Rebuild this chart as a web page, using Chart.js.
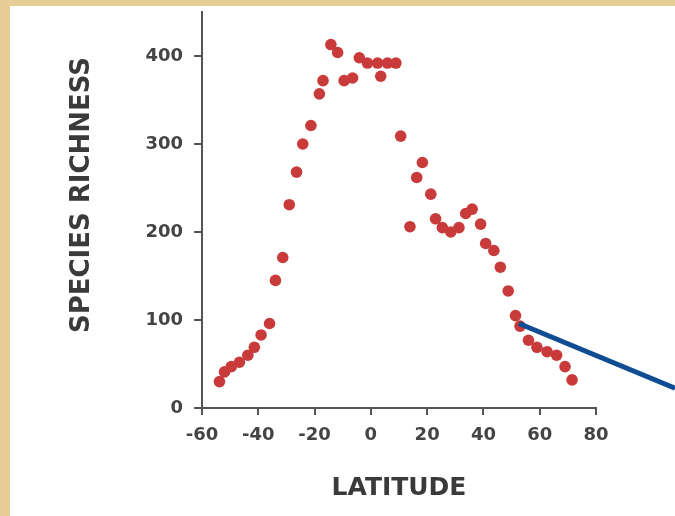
<!DOCTYPE html>
<html>
<head>
<meta charset="utf-8">
<script src="https://cdn.jsdelivr.net/npm/chart.js@4/dist/chart.umd.min.js"></script>
<style>
  html, body { margin: 0; padding: 0; width: 675px; height: 516px; overflow: hidden; background: #e6cd95; }
  #panel { position: absolute; left: 10px; top: 6px; width: 665px; height: 510px; background: #ffffff; }
  #c { position: absolute; left: 0; top: 0; }
</style>
</head>
<body>
<div id="panel"></div>
<canvas id="c" width="675" height="516"></canvas>
<script>
// ---- data ----
const latitude = [
  -53.8, -52, -49.6, -46.7, -43.7, -41.4, -39, -36, -33.9, -31.3,
  -29, -26.4, -24.2, -21.3, -18.3, -17, -14.2, -11.8, -9.5, -6.5,
  -4.1, -1.2, 2.4, 3.5, 5.9, 8.9, 10.6, 13.9, 16.3, 18.3,
  21.3, 23, 25.4, 28.4, 31.3, 33.7, 36, 39, 40.8, 43.7,
  46, 48.8, 51.4, 53, 56, 59, 62.6, 66, 69, 71.5
];
const speciesRichness = [
  30, 41, 47, 52, 60, 69, 83, 96, 145, 171,
  231, 268, 300, 321, 357, 372, 413, 404, 372, 375,
  398, 392, 392, 377, 392, 392, 309, 206, 262, 279,
  243, 215, 205, 200, 205, 221, 226, 209, 187, 179,
  160, 133, 105, 93, 77, 69, 64, 60, 47, 32
];
const xTickValues = [-60, -40, -20, 0, 20, 40, 60, 80];
const yTickValues = [0, 100, 200, 300, 400];
const xTitle = 'LATITUDE';
const yTitle = 'SPECIES RICHNESS';
// annotation pointer: starts at this data location
const pointerAt = { x: 52.6, y: 96 };

const points = latitude.map((x, i) => ({ x: x, y: speciesRichness[i] }));

const axisColor = '#555555';
const tickFont = { family: 'DejaVu Sans', weight: 'bold', size: 18 };

const yTitlePlugin = {
  id: 'yTitle',
  afterDraw(chart) {
    const ctx = chart.ctx;
    const area = chart.chartArea;
    ctx.save();
    ctx.translate(82, (area.top + area.bottom) / 2 - 15);
    ctx.rotate(-Math.PI / 2);
    ctx.font = 'bold 26px "DejaVu Sans"';
    ctx.fillStyle = '#3a3a3a';
    ctx.textAlign = 'center';
    ctx.textBaseline = 'middle';
    ctx.fillText(yTitle, 0, 0);
    ctx.restore();
  }
};

const pointerPlugin = {
  id: 'pointer',
  afterDraw(chart) {
    const ctx = chart.ctx;
    const sx = chart.scales.x.getPixelForValue(pointerAt.x);
    const sy = chart.scales.y.getPixelForValue(pointerAt.y);
    const ex = chart.width;
    const ey = sy + (ex - sx) * 0.414;
    ctx.save();
    ctx.strokeStyle = '#0f4c92';
    ctx.lineWidth = 5;
    ctx.lineCap = 'butt';
    ctx.beginPath();
    ctx.moveTo(sx, sy);
    ctx.lineTo(ex, ey);
    ctx.stroke();
    ctx.restore();
  }
};

new Chart(document.getElementById('c'), {
  type: 'scatter',
  data: {
    datasets: [{
      data: points,
      backgroundColor: '#c93b3b',
      borderWidth: 0,
      pointRadius: 5.8,
      pointHoverRadius: 5.8
    }]
  },
  options: {
    responsive: false,
    animation: false,
    events: [],
    layout: { padding: { left: 0, top: 12, right: 79, bottom: 0 } },
    plugins: { legend: { display: false }, tooltip: { enabled: false } },
    scales: {
      x: {
        type: 'linear',
        min: xTickValues[0],
        max: xTickValues[xTickValues.length - 1],
        afterBuildTicks(scale) { scale.ticks = xTickValues.map(v => ({ value: v })); },
        afterFit(scale) { scale.height = 108; scale.paddingLeft = 0; scale.paddingRight = 0; },
        ticks: { font: tickFont, color: '#444444', padding: 10, maxRotation: 0, autoSkip: false },
        grid: { drawOnChartArea: false, drawTicks: true, tickLength: 7, color: axisColor, lineWidth: 2 },
        border: { display: true, color: axisColor, width: 2 },
        title: {
          display: true, text: xTitle, color: '#3a3a3a',
          font: { family: 'DejaVu Sans', weight: 'bold', size: 25 },
          padding: { top: 0, bottom: 13 }
        }
      },
      y: {
        type: 'linear',
        min: 0,
        max: 450,
        afterBuildTicks(scale) { scale.ticks = yTickValues.map(v => ({ value: v })); },
        afterFit(scale) { scale.width = 202; scale.paddingTop = 0; scale.paddingBottom = 0; },
        ticks: { font: tickFont, color: '#444444', padding: 11, autoSkip: false },
        grid: { drawOnChartArea: false, drawTicks: true, tickLength: 8, color: axisColor, lineWidth: 2 },
        border: { display: true, color: axisColor, width: 2 }
      }
    }
  },
  plugins: [yTitlePlugin, pointerPlugin]
});
</script>
</body>
</html>
